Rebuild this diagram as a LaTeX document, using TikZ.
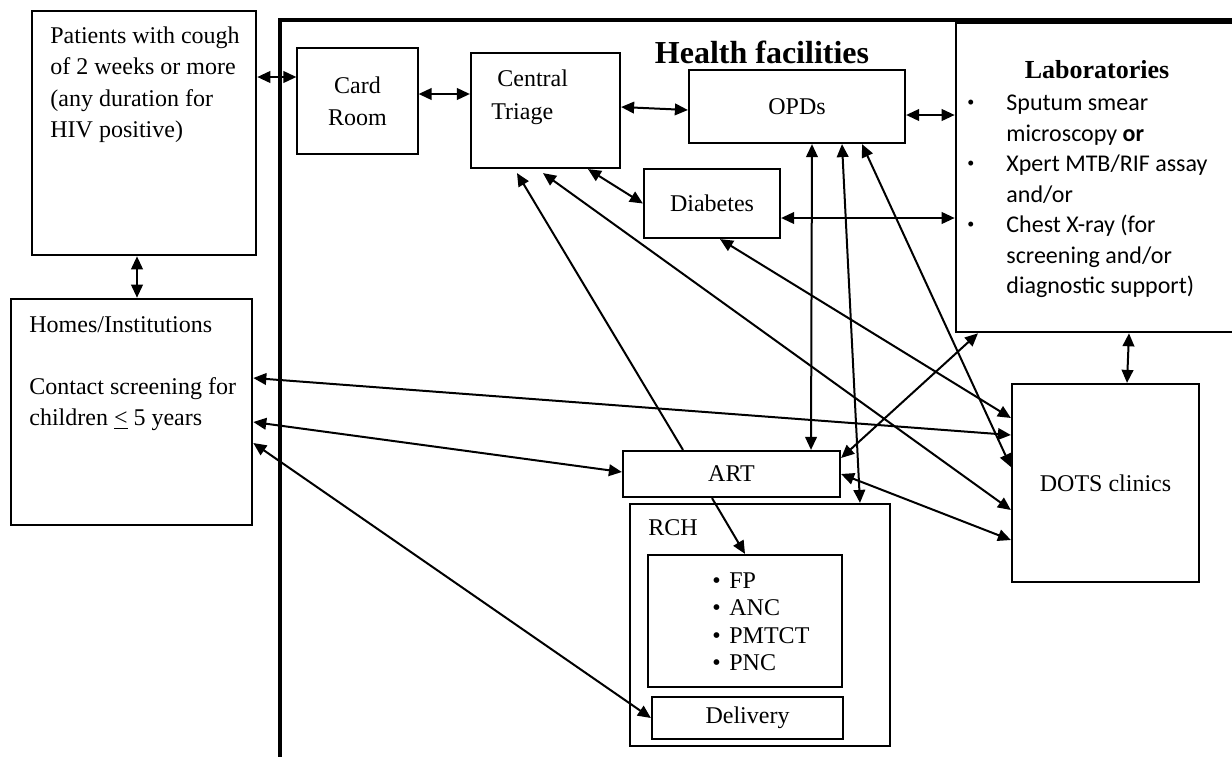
\documentclass[tikz,border=0pt]{standalone}
\usepackage{fontspec}
\setmainfont{Liberation Serif}
\newfontfamily\labfont{Carlito}
\usetikzlibrary{arrows.meta,calc}
\newcommand{\labbul}{\makebox[20.5pt][l]{\hspace*{1pt}\raisebox{2.2pt}{\fontsize{7}{7}\selectfont •}}}
\begin{document}
\begin{tikzpicture}[x=0.5pt,y=-0.5pt,
  box/.style={draw, line width=1.1pt, inner sep=0pt},
  thinbox/.style={draw, line width=0.6pt, inner sep=0pt},
  arr/.style={line width=1pt, {Triangle[length=6.5pt,width=5.8pt]}-{Triangle[length=6.5pt,width=5.8pt]}},
  arrone/.style={line width=1pt, -{Triangle[length=6.5pt,width=5.8pt]}},
  txt/.style={font=\fontsize{12}{15.8}\selectfont, inner sep=0pt},
  labtxt/.style={font=\labfont\fontsize{12}{15.25}\selectfont, inner sep=0pt},
  listtxt/.style={font=\fontsize{12}{13.8}\selectfont, inner sep=0pt},
  boxtxt/.style={font=\fontsize{12}{16}\selectfont, align=center}]
\useasboundingbox (0,0) rectangle (1232,756);
\clip (0,0) rectangle (1232,756);

% outer health facilities frame
\draw[line width=1.6pt] (280,770) -- (280,20) -- (1250,20);

% boxes
\node[box, line width=1.3pt, minimum width=112pt, minimum height=122pt] (pat) at (144,133) {};
\node[box, line width=1.3pt, minimum width=120.5pt, minimum height=113pt] (home) at (131.5,412) {};
\node[thinbox, boxtxt, minimum width=60.5pt, minimum height=53pt] (card) at (357.5,101) {Card\\Room};
\node[box, minimum width=74.5pt, minimum height=57.5pt] (tri) at (545.5,110.5) {};
\node[box, boxtxt, minimum width=108pt, minimum height=36.5pt] (opd) at (797,106.5) {OPDs};
\node[box, boxtxt, minimum width=68pt, minimum height=34.5pt] (dia) at (712,203.5) {Diabetes};
\node[box, line width=1.3pt, minimum width=147pt, minimum height=154.5pt] (lab) at (1103,177.5) {};
\node[box, boxtxt, minimum width=93.5pt, minimum height=99pt] (dots) at (1105.5,483) {DOTS clinics};
\node[box, boxtxt, minimum width=108.5pt, minimum height=23pt] (art) at (731.5,474) {ART};
\node[box, minimum width=130pt, minimum height=121pt] (rch) at (760,625) {};
\node[box, minimum width=97pt, minimum height=66pt] (list) at (745,621) {};
\node[box, boxtxt, minimum width=95.5pt, minimum height=21pt] (deliv) at (747.5,718) {Delivery};

% texts
\node[txt, align=left, anchor=north west] (pattxt) at (50,26) {Patients with cough\\of 2 weeks or more\\(any duration for\\HIV positive)};
\node[txt, font=\fontsize{12}{15.5}\selectfont, align=left, anchor=north west] (hometxt) at (29,316) {Homes/Institutions\\[15.5pt]Contact screening for\\children \underline{<} 5 years};
\node[txt, font=\fontsize{12}{16.5}\selectfont, align=left, anchor=north west] (tritxt) at (491,69) {\hspace*{3pt}Central\\Triage};
\node[font=\fontsize{16}{19}\selectfont\bfseries, anchor=base, inner sep=0pt] (hftitle) at (762,63) {Health facilities};
\node[font=\fontsize{13}{15}\selectfont\bfseries, anchor=base, inner sep=0pt] (labtitle) at (1097,78) {Laboratories};
\node[labtxt, align=left, anchor=north west] (labtxt) at (965,95) {\labbul Sputum smear\\
\hspace*{20.5pt}microscopy \textbf{or}\\
\labbul Xpert MTB/RIF assay\\
\hspace*{20.5pt}and/or\\
\labbul Chest X-ray (for\\
\hspace*{20.5pt}screening and/or\\
\hspace*{20.5pt}diagnostic support)};
\node[txt, anchor=base west] (rchtxt) at (648,535) {RCH};
\node[listtxt, align=left, anchor=north west] (listtxt) at (712,572) {\makebox[8.5pt][l]{•}FP\\\makebox[8.5pt][l]{•}ANC\\\makebox[8.5pt][l]{•}PMTCT\\\makebox[8.5pt][l]{•}PNC};

% connectors
\draw[arr] ([yshift=28pt]pat.east) -- ([yshift=12pt]card.west);
\draw[arr] ([xshift=-3.5pt]pat.south) -- ([xshift=2.75pt]home.north);
\draw[arr] ([yshift=3.5pt]card.east) -- ([yshift=8.25pt]tri.west);
\draw[arr] ([yshift=1.75pt]tri.east) -- ([yshift=-1.75pt]opd.west);
\draw[arr] ([yshift=-4.25pt]opd.east) -- ([yshift=31.25pt]lab.west);
\draw[arr] ([xshift=21.25pt]tri.south) -- (dia.west);
\draw[arr] ([yshift=-7.25pt]dia.east) -- ([yshift=-20.25pt]lab.west);
\draw[arr] ([xshift=4pt]dia.south) -- ([yshift=32.5pt]dots.west);
\draw[arr] ([yshift=17pt]home.east) -- ([yshift=24pt]dots.west);
\draw[arr] ([yshift=-5pt]home.east) -- ([yshift=1pt]art.west);
\draw[arr] ([yshift=-15.5pt]home.east) -- (deliv.west);
\draw[arrone] ([xshift=-24.25pt]art.north) -- ([xshift=-14.25pt,yshift=-2pt]tri.south);
\draw[arr] ([xshift=-1.25pt,yshift=-2pt]tri.south) -- ([yshift=-13.5pt]dots.west);
\draw[arr] ([xshift=7.5pt]opd.south) -- ([xshift=39.75pt]art.north);
\draw[arr] ([xshift=22.5pt]opd.south) -- ([xshift=50pt]rch.north);
\draw[arr] ([xshift=32.5pt]opd.south) -- ([yshift=8pt]dots.west);
\draw[arr] ([xshift=-62.5pt]lab.south) -- ([yshift=8pt]art.east);
\draw[arr] ([xshift=13pt]lab.south) -- ([xshift=10.75pt]dots.north);
\draw[arr] (art.east) -- ([yshift=-28.5pt]dots.west);
\draw[arrone] ([xshift=-9.75pt]art.south) -- (list.north);
\end{tikzpicture}
\end{document}
